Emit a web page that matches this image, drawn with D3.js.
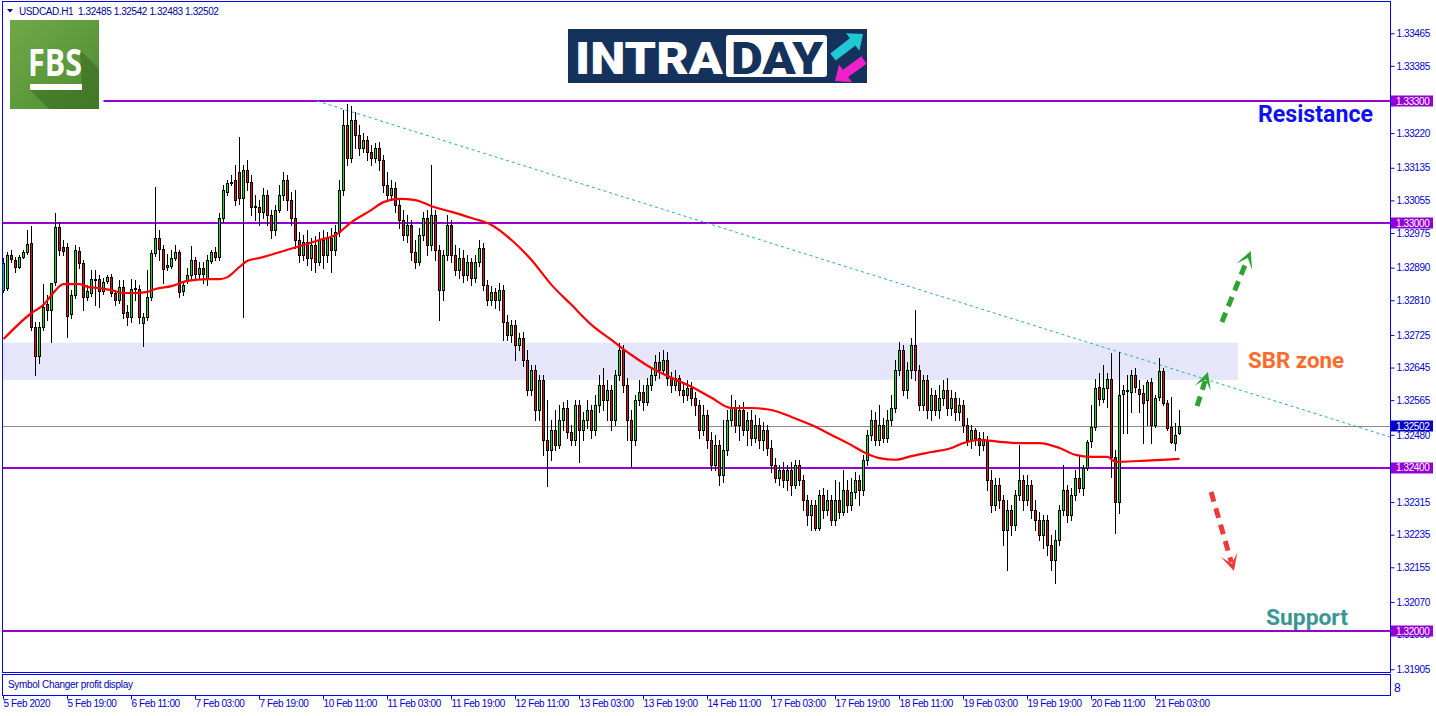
<!DOCTYPE html>
<html><head><meta charset="utf-8">
<script src="https://cdn.jsdelivr.net/npm/d3@7"></script>
<style>
html,body{margin:0;padding:0;background:#fff;overflow:hidden;}
svg{display:block;}
</style></head>
<body><svg id="c" width="1436" height="716"></svg>
<script>
// ---------------- DATA ----------------
const chartTitle = "USDCAD.H1  1.32485 1.32542 1.32483 1.32502";
const subWindowTitle = "Symbol Changer profit display";

const opens = [
1.32836,1.32841,1.32922,1.32910,1.32893,1.32917,1.32930,1.32952,1.32746,1.32675,
1.32746,1.32802,1.32787,1.32856,1.32991,1.32942,1.32942,1.32778,1.32824,1.32932,
1.32903,1.32819,1.32829,1.32863,1.32863,1.32834,1.32859,1.32868,1.32829,1.32812,
1.32844,1.32782,1.32770,1.32839,1.32839,1.32755,1.32770,1.32819,1.32927,1.32964,
1.32937,1.32893,1.32895,1.32915,1.32930,1.32834,1.32859,1.32873,1.32910,1.32876,
1.32890,1.32863,1.32908,1.32930,1.32917,1.33013,1.33077,1.33099,1.33106,1.33126,
1.33062,1.33131,1.33101,1.33042,1.33040,1.33028,1.33069,1.33020,1.32984,1.33033,
1.33069,1.33106,1.33057,1.33013,1.32959,1.32922,1.32954,1.32915,1.32947,1.32905,
1.32959,1.32922,1.32964,1.32935,1.32979,1.33082,1.33241,1.33160,1.33253,1.33217,
1.33185,1.33204,1.33175,1.33160,1.33185,1.33155,1.33094,1.33069,1.33087,1.33045,
1.33008,1.32971,1.32996,1.32930,1.32905,1.32971,1.33013,1.32947,1.33020,1.32935,
1.32836,1.32922,1.32996,1.32922,1.32885,1.32915,1.32873,1.32905,1.32866,1.32905,
1.32939,1.32849,1.32812,1.32832,1.32812,1.32836,1.32758,1.32726,1.32751,1.32702,
1.32719,1.32665,1.32591,1.32640,1.32542,1.32616,1.32469,1.32444,1.32493,1.32456,
1.32518,1.32547,1.32488,1.32469,1.32554,1.32493,1.32518,1.32542,1.32493,1.32554,
1.32603,1.32567,1.32591,1.32518,1.32628,1.32689,1.32603,1.32518,1.32469,1.32567,
1.32586,1.32562,1.32603,1.32628,1.32660,1.32640,1.32665,1.32621,1.32603,1.32621,
1.32591,1.32579,1.32596,1.32572,1.32554,1.32493,1.32530,1.32469,1.32407,1.32456,
1.32383,1.32444,1.32518,1.32547,1.32505,1.32542,1.32493,1.32518,1.32473,1.32505,
1.32469,1.32493,1.32449,1.32407,1.32375,1.32395,1.32370,1.32395,1.32358,1.32407,
1.32370,1.32321,1.32285,1.32309,1.32253,1.32334,1.32297,1.32321,1.32272,1.32321,
1.32292,1.32346,1.32309,1.32341,1.32370,1.32346,1.32420,1.32481,1.32518,1.32469,
1.32505,1.32473,1.32518,1.32547,1.32640,1.32689,1.32591,1.32640,1.32702,1.32640,
1.32554,1.32616,1.32542,1.32579,1.32542,1.32572,1.32591,1.32547,1.32572,1.32537,
1.32554,1.32505,1.32469,1.32493,1.32473,1.32456,1.32469,1.32370,1.32309,1.32358,
1.32321,1.32248,1.32297,1.32260,1.32334,1.32370,1.32321,1.32358,1.32297,1.32272,
1.32235,1.32272,1.32211,1.32174,1.32223,1.32297,1.32346,1.32285,1.32334,1.32375,
1.32351,1.32400,1.32466,1.32500,1.32599,1.32569,1.32596,1.32618,1.32427,1.32316,
1.32581,1.32589,1.32586,1.32628,1.32594,1.32584,1.32567,1.32611,1.32505,1.32574,
1.32638,1.32559,1.32500,1.32461,1.32485];

const highs = [
1.32915,1.32930,1.32935,1.32917,1.32922,1.32935,1.32984,1.32993,1.32758,1.32758,
1.32851,1.32824,1.32854,1.33025,1.33003,1.32959,1.32952,1.32836,1.32947,1.32942,
1.32910,1.32849,1.32885,1.32885,1.32873,1.32866,1.32873,1.32876,1.32836,1.32861,
1.32861,1.32800,1.32863,1.32861,1.32849,1.32780,1.32885,1.32935,1.33089,1.32984,
1.32947,1.32925,1.32935,1.32947,1.32935,1.32856,1.32890,1.32944,1.32917,1.32905,
1.32905,1.32922,1.32935,1.32942,1.33025,1.33094,1.33106,1.33119,1.33143,1.33212,
1.33143,1.33155,1.33119,1.33069,1.33057,1.33087,1.33082,1.33033,1.33045,1.33094,
1.33126,1.33119,1.33077,1.33082,1.32979,1.32971,1.32984,1.32964,1.32969,1.32979,
1.32984,1.32979,1.32988,1.32996,1.33106,1.33278,1.33293,1.33288,1.33273,1.33241,
1.33222,1.33214,1.33192,1.33197,1.33199,1.33168,1.33126,1.33106,1.33101,1.33062,
1.33033,1.33020,1.33008,1.32959,1.32988,1.33028,1.33033,1.33143,1.33033,1.32947,
1.32935,1.33020,1.33008,1.32947,1.32939,1.32935,1.32922,1.32915,1.32922,1.32959,
1.32952,1.32861,1.32846,1.32841,1.32854,1.32849,1.32775,1.32763,1.32763,1.32731,
1.32733,1.32689,1.32652,1.32652,1.32628,1.32628,1.32567,1.32518,1.32542,1.32554,
1.32562,1.32567,1.32505,1.32567,1.32567,1.32537,1.32567,1.32554,1.32579,1.32628,
1.32645,1.32616,1.32603,1.32640,1.32706,1.32702,1.32621,1.32542,1.32579,1.32616,
1.32603,1.32621,1.32645,1.32677,1.32684,1.32689,1.32684,1.32635,1.32640,1.32628,
1.32611,1.32616,1.32611,1.32586,1.32567,1.32554,1.32542,1.32488,1.32481,1.32469,
1.32518,1.32542,1.32579,1.32567,1.32554,1.32562,1.32537,1.32542,1.32530,1.32522,
1.32513,1.32505,1.32469,1.32424,1.32407,1.32415,1.32407,1.32415,1.32420,1.32420,
1.32383,1.32334,1.32321,1.32321,1.32346,1.32351,1.32346,1.32334,1.32370,1.32366,
1.32395,1.32370,1.32375,1.32390,1.32383,1.32432,1.32493,1.32542,1.32537,1.32554,
1.32522,1.32542,1.32579,1.32665,1.32709,1.32702,1.32660,1.32719,1.32787,1.32652,
1.32628,1.32628,1.32596,1.32591,1.32603,1.32616,1.32621,1.32591,1.32586,1.32572,
1.32567,1.32522,1.32505,1.32498,1.32488,1.32488,1.32478,1.32395,1.32375,1.32375,
1.32334,1.32321,1.32309,1.32346,1.32456,1.32383,1.32383,1.32370,1.32321,1.32292,
1.32285,1.32285,1.32235,1.32248,1.32309,1.32407,1.32358,1.32351,1.32395,1.32432,
1.32407,1.32469,1.32554,1.32618,1.32633,1.32652,1.32633,1.32682,1.32444,1.32684,
1.32603,1.32628,1.32640,1.32645,1.32616,1.32603,1.32616,1.32621,1.32579,1.32670,
1.32645,1.32567,1.32574,1.32510,1.32542];

const lows = [
1.32832,1.32836,1.32905,1.32881,1.32890,1.32915,1.32925,1.32738,1.32628,1.32657,
1.32738,1.32763,1.32709,1.32849,1.32922,1.32922,1.32721,1.32768,1.32817,1.32890,
1.32787,1.32812,1.32822,1.32800,1.32795,1.32827,1.32854,1.32822,1.32800,1.32805,
1.32768,1.32751,1.32758,1.32812,1.32755,1.32699,1.32763,1.32812,1.32920,1.32910,
1.32854,1.32885,1.32890,1.32910,1.32819,1.32824,1.32854,1.32863,1.32861,1.32863,
1.32854,1.32849,1.32903,1.32910,1.32910,1.33003,1.33069,1.33094,1.33045,1.33047,
1.32770,1.33082,1.33020,1.33008,1.32996,1.33013,1.32996,1.32964,1.32971,1.33028,
1.33057,1.33033,1.32996,1.32939,1.32905,1.32910,1.32898,1.32885,1.32881,1.32898,
1.32890,1.32905,1.32881,1.32922,1.32969,1.33069,1.33143,1.33150,1.33185,1.33168,
1.33175,1.33155,1.33143,1.33150,1.33131,1.33077,1.33057,1.33057,1.33028,1.32988,
1.32959,1.32954,1.32910,1.32890,1.32898,1.32959,1.32922,1.32935,1.32910,1.32763,
1.32812,1.32910,1.32905,1.32873,1.32866,1.32856,1.32861,1.32849,1.32856,1.32895,
1.32836,1.32800,1.32800,1.32792,1.32787,1.32714,1.32714,1.32709,1.32665,1.32689,
1.32650,1.32579,1.32579,1.32518,1.32518,1.32432,1.32356,1.32420,1.32444,1.32449,
1.32493,1.32473,1.32456,1.32456,1.32415,1.32469,1.32498,1.32473,1.32481,1.32537,
1.32542,1.32518,1.32493,1.32505,1.32616,1.32586,1.32469,1.32402,1.32456,1.32554,
1.32542,1.32554,1.32591,1.32616,1.32621,1.32635,1.32603,1.32586,1.32591,1.32579,
1.32562,1.32567,1.32554,1.32530,1.32473,1.32481,1.32449,1.32395,1.32395,1.32358,
1.32366,1.32432,1.32505,1.32488,1.32469,1.32481,1.32456,1.32456,1.32464,1.32449,
1.32444,1.32432,1.32390,1.32366,1.32358,1.32353,1.32346,1.32334,1.32351,1.32358,
1.32297,1.32260,1.32248,1.32248,1.32248,1.32277,1.32285,1.32260,1.32260,1.32277,
1.32285,1.32292,1.32297,1.32326,1.32309,1.32334,1.32407,1.32469,1.32456,1.32456,
1.32464,1.32464,1.32505,1.32537,1.32628,1.32579,1.32572,1.32621,1.32616,1.32542,
1.32542,1.32522,1.32518,1.32530,1.32522,1.32554,1.32530,1.32530,1.32518,1.32518,
1.32488,1.32456,1.32449,1.32456,1.32432,1.32444,1.32346,1.32292,1.32297,1.32302,
1.32211,1.32150,1.32235,1.32248,1.32321,1.32297,1.32309,1.32277,1.32248,1.32223,
1.32204,1.32186,1.32150,1.32118,1.32211,1.32285,1.32267,1.32272,1.32321,1.32341,
1.32334,1.32395,1.32451,1.32493,1.32554,1.32562,1.32549,1.32378,1.32240,1.32289,
1.32486,1.32486,1.32537,1.32586,1.32537,1.32461,1.32505,1.32461,1.32500,1.32567,
1.32554,1.32493,1.32461,1.32444,1.32483];

const closes = [
1.32903,1.32922,1.32912,1.32893,1.32917,1.32930,1.32949,1.32746,1.32675,1.32746,
1.32795,1.32787,1.32854,1.32991,1.32935,1.32932,1.32773,1.32824,1.32935,1.32903,
1.32819,1.32834,1.32863,1.32861,1.32834,1.32856,1.32868,1.32829,1.32812,1.32844,
1.32780,1.32770,1.32839,1.32841,1.32770,1.32770,1.32819,1.32927,1.32964,1.32937,
1.32888,1.32898,1.32915,1.32930,1.32832,1.32849,1.32873,1.32910,1.32876,1.32890,
1.32876,1.32910,1.32930,1.32917,1.33013,1.33082,1.33099,1.33101,1.33057,1.33062,
1.33131,1.33101,1.33040,1.33040,1.33028,1.33069,1.33020,1.32984,1.33033,1.33069,
1.33106,1.33057,1.33013,1.32959,1.32922,1.32954,1.32915,1.32947,1.32905,1.32959,
1.32922,1.32964,1.32935,1.32979,1.33082,1.33241,1.33160,1.33253,1.33217,1.33185,
1.33204,1.33175,1.33160,1.33185,1.33155,1.33094,1.33069,1.33087,1.33045,1.33008,
1.32971,1.32996,1.32930,1.32905,1.32971,1.33013,1.32947,1.33020,1.32935,1.32836,
1.32922,1.32996,1.32922,1.32885,1.32915,1.32873,1.32905,1.32866,1.32905,1.32939,
1.32849,1.32812,1.32832,1.32812,1.32836,1.32758,1.32726,1.32751,1.32702,1.32719,
1.32665,1.32591,1.32640,1.32542,1.32616,1.32469,1.32444,1.32493,1.32456,1.32518,
1.32547,1.32488,1.32469,1.32554,1.32493,1.32518,1.32542,1.32493,1.32554,1.32603,
1.32567,1.32591,1.32518,1.32628,1.32689,1.32603,1.32518,1.32469,1.32567,1.32586,
1.32562,1.32603,1.32628,1.32660,1.32640,1.32665,1.32621,1.32603,1.32621,1.32591,
1.32579,1.32596,1.32572,1.32554,1.32493,1.32530,1.32469,1.32407,1.32456,1.32383,
1.32444,1.32518,1.32547,1.32505,1.32542,1.32493,1.32518,1.32473,1.32505,1.32469,
1.32493,1.32449,1.32407,1.32375,1.32395,1.32370,1.32395,1.32358,1.32407,1.32370,
1.32321,1.32285,1.32309,1.32253,1.32334,1.32297,1.32321,1.32272,1.32321,1.32292,
1.32346,1.32309,1.32341,1.32370,1.32346,1.32420,1.32481,1.32518,1.32469,1.32505,
1.32473,1.32518,1.32547,1.32640,1.32689,1.32591,1.32640,1.32702,1.32640,1.32554,
1.32616,1.32542,1.32579,1.32542,1.32572,1.32591,1.32547,1.32572,1.32537,1.32554,
1.32505,1.32469,1.32493,1.32473,1.32456,1.32469,1.32370,1.32309,1.32358,1.32321,
1.32248,1.32297,1.32260,1.32334,1.32370,1.32321,1.32358,1.32297,1.32272,1.32235,
1.32272,1.32211,1.32174,1.32223,1.32297,1.32346,1.32285,1.32334,1.32375,1.32351,
1.32400,1.32464,1.32500,1.32596,1.32569,1.32596,1.32618,1.32427,1.32316,1.32579,
1.32591,1.32591,1.32628,1.32599,1.32581,1.32559,1.32611,1.32505,1.32572,1.32638,
1.32559,1.32498,1.32464,1.32481,1.32502];

// moving average (red line), sampled along the bars
const maBars = [0,7,10,12,15,19,21,24,27,30,32,36,38,42,46,51,54,56,59,61,64,71,79,83,87,92,95,99,103,107,
  112,117,122,127,132,137,142,147,152,157,162,167,172,177,182,187,192,197,202,207,212,215,219,223,227,232,237,240,244,249,
  254,259,264,268,272,276,278,284,294];
const maValues = [1.32716,1.32780,1.32800,1.32824,1.32851,1.32851,1.32844,1.32841,1.32836,1.32829,
  1.32829,1.32832,1.32839,1.32846,1.32859,1.32863,1.32863,1.32868,1.32893,1.32908,
  1.32915,1.32935,1.32959,1.32971,1.33003,1.33033,1.33052,1.33060,1.33057,1.33042,
  1.33028,1.33013,1.32996,1.32959,1.32910,1.32849,1.32800,1.32751,1.32714,1.32677,
  1.32645,1.32621,1.32599,1.32572,1.32547,1.32547,1.32542,1.32525,1.32505,1.32481,
  1.32456,1.32439,1.32424,1.32420,1.32429,1.32439,1.32449,1.32461,1.32469,1.32464,
  1.32461,1.32461,1.32449,1.32432,1.32427,1.32427,1.32415,1.32417,1.32422];

const xTickBars = [0,16,32,48,64,80,96,112,128,144,160,176,192,208,224,240,256,272,288];
const xTickLabels = ["5 Feb 2020","5 Feb 19:00","6 Feb 11:00","7 Feb 03:00","7 Feb 19:00","10 Feb 11:00",
  "11 Feb 03:00","11 Feb 19:00","12 Feb 11:00","13 Feb 03:00","13 Feb 19:00","14 Feb 11:00","17 Feb 03:00",
  "17 Feb 19:00","18 Feb 11:00","19 Feb 03:00","19 Feb 19:00","20 Feb 11:00","21 Feb 03:00"];
const yTickValues = [1.33465,1.33385,1.33220,1.33135,1.33055,1.32975,1.32890,1.32810,1.32725,1.32645,
  1.32565,1.32480,1.32315,1.32235,1.32155,1.32070,1.31990,1.31905];

const levelPrices = [1.33300,1.33000,1.32400,1.32000];
const levelStartBars = [25,0,0,0];
const currentPrice = 1.32502;
const sbrZone = [1.32616,1.32707];
const sbrEndBar = 308.6;
const trendBars = [78.4,346.6];
const trendPrices = [1.33300,1.32476];
const arrowUpSmall = {bars:[298.4,301.1], prices:[1.32552,1.32635]};
const arrowUpBig = {bars:[304.6,311.8], prices:[1.32758,1.32932]};
const arrowDown = {bars:[301.9,307.6], prices:[1.32341,1.32147]};

// ---------------- DRAW ----------------
const svg = d3.select("#c");
const BLUE = "#0000ff", TXT = "#0000d0", PURPLE = "#9400d3";
const AX_FONT = "'Liberation Sans', Arial, sans-serif";
const plot = {l:3, t:2, r:1390, b:672};

const x = d3.scaleLinear().domain([0, opens.length-1]).range([3.5, 3.5 + 4*(opens.length-1)]);
const y = d3.scaleLinear().domain([1.32, 1.333]).range([631, 101]);

svg.append("rect").attr("width",1436).attr("height",716).attr("fill","#fff");

const defs = svg.append("defs");
defs.append("clipPath").attr("id","plotclip").append("rect")
  .attr("x",plot.l).attr("y",plot.t).attr("width",plot.r-plot.l).attr("height",plot.b-plot.t);
const grad = defs.append("linearGradient").attr("id","fbsg").attr("x1","0").attr("y1","0").attr("x2","1").attr("y2","1");
grad.append("stop").attr("offset","0").attr("stop-color","#6fa848");
grad.append("stop").attr("offset","1").attr("stop-color","#4f8c32");

const g = svg.append("g").attr("clip-path","url(#plotclip)");

// SBR zone
g.append("rect").attr("x",plot.l).attr("y",y(sbrZone[1]))
  .attr("width",x(sbrEndBar)-plot.l).attr("height",y(sbrZone[0])-y(sbrZone[1]))
  .attr("fill","#e6e6fa");

// current price line
g.append("line").attr("x1",plot.l).attr("x2",plot.r).attr("y1",Math.round(y(currentPrice))+0.5).attr("y2",Math.round(y(currentPrice))+0.5)
  .attr("stroke","#8c8c8c").attr("stroke-width",1);

// levels
levelPrices.forEach((p,i)=>{
  g.append("line").attr("x1",levelStartBars[i]===0?plot.l:x(levelStartBars[i])).attr("x2",plot.r)
   .attr("y1",Math.round(y(p))).attr("y2",Math.round(y(p)))
   .attr("stroke",PURPLE).attr("stroke-width",2);
});

// trend line
g.append("line").attr("x1",x(trendBars[0])).attr("y1",y(trendPrices[0]))
  .attr("x2",x(trendBars[1])).attr("y2",y(trendPrices[1]))
  .attr("stroke","#20b2aa").attr("stroke-width",1).attr("stroke-dasharray","3,3");

// candles
const idx = d3.range(opens.length);
const cg = g.append("g").attr("shape-rendering","crispEdges");
cg.selectAll("line.wick").data(idx).join("line").attr("class","wick")
  .attr("x1",i=>x(i)).attr("x2",i=>x(i))
  .attr("y1",i=>Math.round(y(highs[i]))).attr("y2",i=>Math.round(y(lows[i]))+1)
  .attr("stroke","#000").attr("stroke-width",1);
cg.selectAll("rect.body").data(idx).join("rect").attr("class","body")
  .attr("x",i=>x(i)-1.5).attr("width",3)
  .attr("y",i=>Math.round(y(Math.max(opens[i],closes[i]))))
  .attr("height",i=>Math.max(1,Math.round(y(Math.min(opens[i],closes[i])))-Math.round(y(Math.max(opens[i],closes[i])))+1))
  .attr("fill","#000");
cg.selectAll("rect.fill").data(idx.filter(i=>Math.round(y(Math.min(opens[i],closes[i])))-Math.round(y(Math.max(opens[i],closes[i])))>=2))
  .join("rect").attr("class","fill")
  .attr("x",i=>x(i)-0.5).attr("width",1)
  .attr("y",i=>Math.round(y(Math.max(opens[i],closes[i])))+1)
  .attr("height",i=>Math.round(y(Math.min(opens[i],closes[i])))-Math.round(y(Math.max(opens[i],closes[i])))-1)
  .attr("fill",i=>closes[i]>=opens[i]?"#11e011":"#e01010");

// moving average
g.append("path").datum(maBars.map((b,i)=>[b,maValues[i]]))
  .attr("d",d3.line().x(d=>x(d[0])).y(d=>y(d[1])).curve(d3.curveMonotoneX))
  .attr("fill","none").attr("stroke","#ff0000").attr("stroke-width",2.2);

// dashed arrows
function dashedArrow(a,color){
  const x1=x(a.bars[0]),y1=y(a.prices[0]),x2=x(a.bars[1]),y2=y(a.prices[1]);
  const dx=x2-x1,dy=y2-y1,L=Math.hypot(dx,dy),ux=dx/L,uy=dy/L,nx=-uy,ny=ux;
  const hl=15,hw=17;
  svg.append("line").attr("x1",x1).attr("y1",y1).attr("x2",x2-ux*hl*0.6).attr("y2",y2-uy*hl*0.6)
    .attr("stroke",color).attr("stroke-width",5).attr("stroke-dasharray","10,7");
  const cx=x2-ux*hl,cy=y2-uy*hl;
  const pts=[[x2,y2],[cx+nx*hw/2-ux*2,cy+ny*hw/2-uy*2],[x2-ux*hl*0.5,y2-uy*hl*0.5],[cx-nx*hw/2-ux*2,cy-ny*hw/2-uy*2]];
  svg.append("path").attr("d","M"+pts.map(p=>p.join(",")).join("L")+"Z").attr("fill",color);
}
dashedArrow(arrowUpSmall,"#2fa332");
dashedArrow(arrowUpBig,"#2fa332");
dashedArrow(arrowDown,"#f03a3a");

// annotation labels
const LAB_FONT = "Roboto, 'Open Sans', sans-serif";
svg.append("text").attr("x",1258).attr("y",122).text("Resistance")
  .attr("font-family",LAB_FONT).attr("font-weight",700).attr("font-size",23.5)
  .attr("fill","#1010f0").attr("textLength",115).attr("lengthAdjust","spacingAndGlyphs");
svg.append("text").attr("x",1248).attr("y",368).text("SBR zone")
  .attr("font-family",LAB_FONT).attr("font-weight",700).attr("font-size",22)
  .attr("fill","#ff6a2b").attr("textLength",96).attr("lengthAdjust","spacingAndGlyphs");
svg.append("text").attr("x",1266).attr("y",625).text("Support")
  .attr("font-family",LAB_FONT).attr("font-weight",700).attr("font-size",22.5)
  .attr("fill","#3a9692").attr("textLength",82).attr("lengthAdjust","spacingAndGlyphs");

// frames
svg.append("rect").attr("x",plot.l-0.5).attr("y",plot.t-0.5).attr("width",plot.r-plot.l+1).attr("height",plot.b-plot.t+1)
  .attr("fill","none").attr("stroke",BLUE).attr("stroke-width",1).attr("shape-rendering","crispEdges");
svg.append("rect").attr("x",2.5).attr("y",674.5).attr("width",1388).attr("height",21)
  .attr("fill","none").attr("stroke",BLUE).attr("stroke-width",1).attr("shape-rendering","crispEdges");
svg.append("text").attr("x",8).attr("y",688).text(subWindowTitle)
  .attr("font-family",AX_FONT).attr("font-size",10).attr("letter-spacing",-0.3).attr("fill","#0000b0");
svg.append("text").attr("x",1394).attr("y",692).text("8")
  .attr("font-family",AX_FONT).attr("font-size",12).attr("fill",TXT);

// y axis
const yAxis = d3.axisRight(y).tickValues(yTickValues).tickSize(4).tickPadding(2).offset(0).tickFormat(d3.format(".5f"));
const gy = svg.append("g").attr("transform","translate(1390.5,0)").call(yAxis);
gy.select(".domain").remove();
gy.selectAll(".tick line").attr("stroke",BLUE);
gy.selectAll(".tick text").attr("fill",TXT).attr("font-family",AX_FONT).attr("font-size",10).attr("letter-spacing",-0.4);

// x axis
const xAxis = d3.axisBottom(x).tickValues(xTickBars).tickSize(4).offset(0).tickFormat((d,i)=>xTickLabels[i]);
const gx = svg.append("g").attr("transform","translate(0,695.5)").call(xAxis);
gx.select(".domain").remove();
gx.selectAll(".tick line").attr("stroke",BLUE);
gx.selectAll(".tick text").attr("fill",TXT).attr("font-family",AX_FONT).attr("font-size",10)
  .attr("letter-spacing",-0.4).attr("text-anchor","start").attr("x",0).attr("y",4).attr("dy","0.71em");

// price boxes on the axis
function priceBox(p,fill){
  const yy=y(p);
  svg.append("rect").attr("x",1391).attr("y",Math.round(yy)-5.5).attr("width",42).attr("height",11).attr("fill",fill);
  svg.append("text").attr("x",1396).attr("y",yy).attr("dy","0.35em").text(d3.format(".5f")(p))
    .attr("fill","#fff").attr("font-family",AX_FONT).attr("font-size",10).attr("letter-spacing",-0.4);
}
levelPrices.forEach(p=>priceBox(p,PURPLE));
priceBox(currentPrice,"#0000c8");

// header
svg.append("path").attr("d","M7,9L13,9L10,12.5Z").attr("fill","#000080");
svg.append("text").attr("x",19).attr("y",15).text(chartTitle).style("white-space","pre")
  .attr("font-family",AX_FONT).attr("font-size",10).attr("letter-spacing",-0.4).attr("fill","#0000a0");

// FBS logo
const fbs = svg.append("g");
fbs.append("rect").attr("x",10).attr("y",20).attr("width",89).attr("height",89).attr("fill","url(#fbsg)");
fbs.append("path").attr("d","M80,50L99,69L99,109L49,109L30,90L82,90Z").attr("fill","#2f5f18").attr("opacity",0.45);
fbs.append("text").attr("x",28).attr("y",76).text("FBS").attr("font-family","'Open Sans', Roboto, sans-serif")
  .attr("font-weight",700).attr("font-size",38).attr("fill","#fff")
  .attr("textLength",54).attr("lengthAdjust","spacingAndGlyphs");
fbs.append("rect").attr("x",30).attr("y",84).attr("width",52).attr("height",6).attr("fill","#fff");

// INTRADAY logo
const logo = svg.append("g");
logo.append("rect").attr("x",568).attr("y",29).attr("width",299).attr("height",54).attr("fill","#14325c");
logo.append("text").attr("x",575).attr("y",73.5).text("INTRA").attr("font-family","Roboto, sans-serif")
  .attr("font-weight",900).attr("font-size",45).attr("fill","#fff")
  .attr("textLength",148).attr("lengthAdjust","spacingAndGlyphs");
logo.append("rect").attr("x",726).attr("y",35).attr("width",101).attr("height",42).attr("rx",3).attr("fill","#fff");
logo.append("text").attr("x",731).attr("y",73.5).text("DAY").attr("font-family","Roboto, sans-serif")
  .attr("font-weight",900).attr("font-size",45).attr("fill","#14325c")
  .attr("textLength",92).attr("lengthAdjust","spacingAndGlyphs");
function solidArrow(ax,ay,bx,by,w,hw,hl,color){
  const dx=bx-ax,dy=by-ay,L=Math.hypot(dx,dy),ux=dx/L,uy=dy/L,nx=-uy,ny=ux;
  const cx=bx-ux*hl,cy=by-uy*hl;
  const pts=[[ax+nx*w/2,ay+ny*w/2],[cx+nx*w/2,cy+ny*w/2],[cx+nx*hw/2,cy+ny*hw/2],[bx,by],
             [cx-nx*hw/2,cy-ny*hw/2],[cx-nx*w/2,cy-ny*w/2],[ax-nx*w/2,ay-ny*w/2]];
  logo.append("path").attr("d","M"+pts.map(p=>p.join(",")).join("L")+"Z").attr("fill",color);
}
solidArrow(833,57,863,34,9,22,13,"#1fc8d4");
solidArrow(864,60,835,81,9,22,13,"#ee22c8");
</script>
</body></html>
